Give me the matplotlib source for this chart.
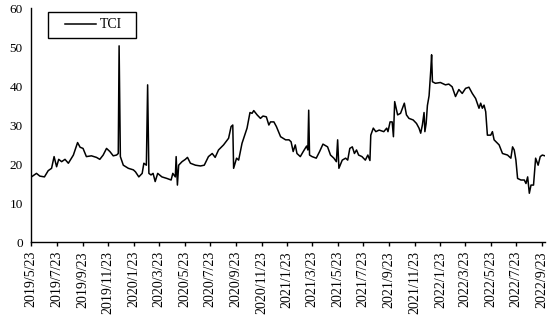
import numpy as np
import pandas as pd
import matplotlib
matplotlib.use('Agg')
import matplotlib.pyplot as plt
from matplotlib.patches import Rectangle

plt.rcParams['font.family'] = ['Liberation Serif', 'DejaVu Serif']

# TCI values (approximate)
dates = [
    '2019-05-23', '2019-05-24', '2019-06-05', '2019-06-13', '2019-06-24', '2019-07-03',
    '2019-07-11', '2019-07-17', '2019-07-23', '2019-07-28', '2019-08-04', '2019-08-12',
    '2019-08-20', '2019-09-01', '2019-09-11', '2019-09-17', '2019-09-24', '2019-10-02',
    '2019-10-14', '2019-10-26', '2019-11-03', '2019-11-11', '2019-11-19', '2019-11-27',
    '2019-12-05', '2019-12-13', '2019-12-17', '2019-12-19', '2019-12-22', '2019-12-29',
    '2020-01-10', '2020-01-22', '2020-01-27', '2020-02-04', '2020-02-12', '2020-02-16',
    '2020-02-22', '2020-02-25', '2020-02-28', '2020-03-04', '2020-03-09', '2020-03-14',
    '2020-03-20', '2020-03-30', '2020-04-11', '2020-04-21', '2020-04-25', '2020-05-01',
    '2020-05-03', '2020-05-06', '2020-05-09', '2020-05-17', '2020-05-25', '2020-05-30',
    '2020-06-06', '2020-06-18', '2020-06-30', '2020-07-09', '2020-07-19', '2020-07-28',
    '2020-08-04', '2020-08-12', '2020-08-24', '2020-09-05', '2020-09-11', '2020-09-15',
    '2020-09-17', '2020-09-24', '2020-09-29', '2020-10-07', '2020-10-15', '2020-10-19',
    '2020-10-26', '2020-10-31', '2020-11-04', '2020-11-12', '2020-11-20', '2020-11-26',
    '2020-12-04', '2020-12-10', '2020-12-14', '2020-12-22', '2020-12-28', '2021-01-07',
    '2021-01-13', '2021-01-19', '2021-01-27', '2021-02-01', '2021-02-06', '2021-02-11',
    '2021-02-15', '2021-02-23', '2021-03-02', '2021-03-10', '2021-03-13', '2021-03-15',
    '2021-03-17', '2021-03-23', '2021-04-02', '2021-04-10', '2021-04-18', '2021-04-29',
    '2021-05-06', '2021-05-14', '2021-05-20', '2021-05-23', '2021-05-26', '2021-06-03',
    '2021-06-11', '2021-06-16', '2021-06-21', '2021-06-27', '2021-07-02', '2021-07-07',
    '2021-07-12', '2021-07-20', '2021-07-28', '2021-08-03', '2021-08-08', '2021-08-10',
    '2021-08-16', '2021-08-22', '2021-08-30', '2021-09-10', '2021-09-17', '2021-09-20',
    '2021-09-25', '2021-09-30', '2021-10-03', '2021-10-06', '2021-10-13', '2021-10-20',
    '2021-10-29', '2021-11-03', '2021-11-09', '2021-11-19', '2021-11-27', '2021-12-03',
    '2021-12-07', '2021-12-11', '2021-12-15', '2021-12-17', '2021-12-20', '2021-12-23',
    '2021-12-27', '2021-12-31', '2022-01-02', '2022-01-04', '2022-01-11', '2022-01-23',
    '2022-02-04', '2022-02-12', '2022-02-20', '2022-02-28', '2022-03-08', '2022-03-16',
    '2022-03-24', '2022-04-01', '2022-04-09', '2022-04-17', '2022-04-25', '2022-04-29',
    '2022-05-03', '2022-05-07', '2022-05-11', '2022-05-15', '2022-05-23', '2022-05-27',
    '2022-05-31', '2022-06-12', '2022-06-20', '2022-07-02', '2022-07-10', '2022-07-14',
    '2022-07-18', '2022-07-22', '2022-07-26', '2022-08-03', '2022-08-11', '2022-08-15',
    '2022-08-19', '2022-08-23', '2022-08-27', '2022-09-02', '2022-09-07', '2022-09-13',
    '2022-09-18', '2022-09-23', '2022-09-29',
]
tci = [
    16.7, 16.7, 17.6, 16.9, 16.7, 18.3,
    18.9, 21.9, 19.3, 21.2, 20.6, 21.2,
    20.2, 22.3, 25.5, 24.3, 24.0, 21.9,
    22.1, 21.7, 21.2, 22.3, 24.0, 23.2,
    22.1, 22.3, 22.7, 50.3, 21.9, 19.7,
    18.9, 18.5, 18.0, 16.7, 17.6, 20.2,
    19.7, 40.3, 17.6, 17.2, 17.6, 15.5,
    17.6, 16.7, 16.3, 15.9, 17.6, 16.7,
    21.9, 14.6, 19.7, 20.6, 21.2, 21.7,
    20.2, 19.7, 19.5, 19.7, 21.9, 22.7,
    21.7, 23.6, 24.9, 26.6, 29.6, 30.0,
    18.9, 21.5, 21.0, 25.3, 27.9, 29.2,
    33.2, 33.0, 33.7, 32.6, 31.7, 32.3,
    32.1, 30.0, 30.8, 30.8, 29.6, 27.0,
    26.6, 26.2, 26.2, 25.7, 23.2, 24.9,
    22.7, 21.9, 23.2, 24.6, 23.6, 33.8,
    22.3, 21.9, 21.5, 23.2, 25.1, 24.4,
    22.3, 21.5, 20.6, 26.2, 18.9, 21.0,
    21.5, 21.0, 24.0, 24.4, 22.7, 23.6,
    22.3, 21.9, 21.0, 22.3, 20.9, 27.4,
    29.2, 28.3, 28.7, 28.3, 29.2, 28.3,
    30.8, 30.8, 27.0, 36.0, 32.6, 33.0,
    35.6, 32.6, 31.7, 31.3, 30.4, 29.2,
    27.9, 30.0, 33.2, 28.3, 30.4, 35.0,
    37.5, 44.0, 48.0, 41.1, 40.7, 40.9,
    40.3, 40.5, 39.8, 37.3, 39.1, 38.1,
    39.4, 39.7, 38.1, 36.8, 34.3, 35.6,
    34.3, 35.1, 33.4, 27.4, 27.4, 28.3,
    26.2, 24.9, 22.7, 22.3, 21.5, 24.4,
    23.6, 21.0, 16.3, 15.9, 15.9, 15.0,
    16.7, 12.5, 14.6, 14.6, 21.5, 19.7,
    21.9, 22.3, 22.1,
]
tick_labels = [
    '2019/5/23', '2019/7/23', '2019/9/23', '2019/11/23',
    '2020/1/23', '2020/3/23', '2020/5/23', '2020/7/23', '2020/9/23', '2020/11/23',
    '2021/1/23', '2021/3/23', '2021/5/23', '2021/7/23', '2021/9/23', '2021/11/23',
    '2022/1/23', '2022/3/23', '2022/5/23', '2022/7/23', '2022/9/23',
]

x = pd.to_datetime(dates)
tick_pos = pd.to_datetime(tick_labels, format='%Y/%m/%d')

W, H = 550, 322
fig = plt.figure(figsize=(W / 100, H / 100), dpi=100)
ax = fig.add_axes([0.0564, 0.2484, 0.935, 0.7267])

ax.plot(x, tci, color='black', lw=1.1, label='TCI')

ax.set_ylim(0, 60)
ax.set_yticks(np.arange(0, 61, 10))
ax.set_xlim(pd.Timestamp('2019-05-23'), pd.Timestamp('2022-09-30'))
ax.set_xticks(tick_pos)
ax.set_xticklabels(tick_labels)
ax.tick_params(axis='x', rotation=90, labelsize=10, length=3, direction='out', width=1)
ax.tick_params(axis='y', labelsize=9.5, length=0, pad=6)

for s in ['top', 'right']:
    ax.spines[s].set_visible(False)
for s in ['left', 'bottom']:
    ax.spines[s].set_linewidth(1)

# legend with a wider box like the reference
ax.legend(loc='center left', bbox_to_anchor=(65 / W, 1 - 25 / H),
          bbox_transform=fig.transFigure, fontsize=10, frameon=False,
          handlelength=2.25, handletextpad=0.25, borderpad=0, borderaxespad=0)
fig.patches.append(Rectangle((47.5 / W, 1 - 38.3 / H), 88.5 / W, 26.6 / H,
                             transform=fig.transFigure, fill=False,
                             edgecolor='black', lw=1))

fig.savefig('out.png', dpi=100)
